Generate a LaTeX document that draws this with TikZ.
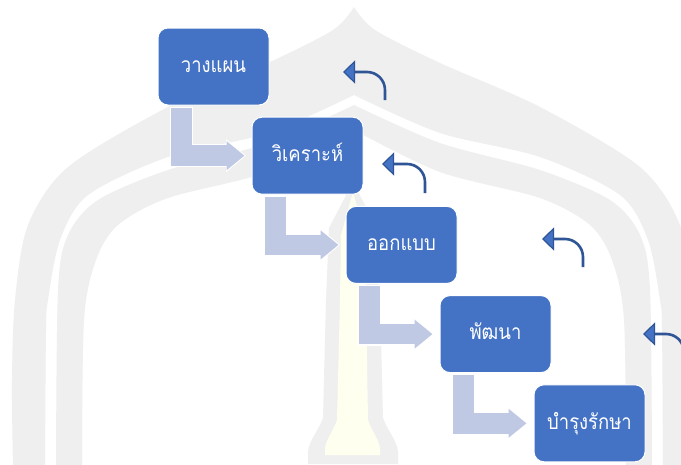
\documentclass[tikz,border=0pt]{standalone}
\usepackage{fontspec}
\newfontfamily\thaifont[Script=Thai,FakeStretch=0.88]{Loma}
\usetikzlibrary{arrows.meta,calc}

\definecolor{boxblue}{HTML}{4472C4}
\definecolor{stepfill}{HTML}{BFC9E4}
\definecolor{backblue}{HTML}{2F5597}
\definecolor{wmgray}{HTML}{EFEFEF}
\definecolor{wmyellow}{HTML}{FFFFF0}

\tikzset{
  phase/.style={rounded corners=10pt, fill=boxblue, draw=white, line width=1pt,
    minimum width=111pt, minimum height=77pt, inner sep=0pt, text=white,
    font=\thaifont\fontsize{21}{25}\selectfont, text height=15.5pt, text depth=4pt},
  flowhalo/.style={draw=white, line width=23pt, -{Triangle[length=20pt,width=32pt]}},
  flowarrow/.style={draw=stepfill, line width=20.5pt, -{Triangle[length=18pt,width=28pt]}},
  backarrow/.style={draw=backblue, line width=2.6pt, rounded corners=18pt,
    -{Triangle[length=12pt,width=23pt,fill=boxblue,line width=1.2pt]}},
}

\begin{document}
\begin{tikzpicture}[x=1pt,y=-1pt]
\useasboundingbox (0,0) rectangle (681,464);
\clip (0,0) rectangle (681,464);
\fill[white] (0,0) rectangle (681,464);

% faint emblem in the background: two nested pointed arches
\fill[wmgray] plot[smooth] coordinates {(13,470) (12,380) (15,300) (28,225) (68,167) (168,107) (268,63) (333,30) (354,7)}
  -- plot[smooth] coordinates {(354,7) (375,30) (440,63) (540,107) (640,167) (680,225) (693,300) (696,380) (695,470)}
  -- plot[smooth] coordinates {(663,470) (662,330) (660,300) (648,240) (620,195) (540,157) (440,133) (354,95)}
  -- plot[smooth] coordinates {(354,95) (268,133) (168,157) (88,195) (60,240) (48,300) (46,330) (45,470)} -- cycle;
\fill[wmgray] plot[smooth] coordinates {(56,470) (58,290) (68,235) (98,200) (168,170) (268,143) (354,105)}
  -- plot[smooth] coordinates {(354,105) (440,143) (540,170) (610,200) (640,235) (650,290) (652,470)}
  -- plot[smooth] coordinates {(626,470) (624,320) (612,260) (590,225) (540,198) (440,172) (354,130)}
  -- plot[smooth] coordinates {(354,130) (268,172) (168,198) (118,225) (96,260) (84,320) (82,470)} -- cycle;
% candle in the middle of the emblem
\fill[wmgray] (353,182) -- (329,228) -- (326,300) -- (323,418)
  .. controls (318,432) and (309,440) .. (308,452) -- (308,464) -- (398,464) -- (398,452)
  .. controls (397,440) and (388,432) .. (383,418) -- (380,300) -- (377,228) -- cycle;
\fill[wmyellow] (353,192) -- (341,235) -- (340,300) -- (337,420)
  .. controls (333,432) and (325,440) .. (325,450) -- (325,455) -- (380,455) -- (380,450)
  .. controls (380,440) and (372,432) .. (368,420) -- (366,300) -- (365,235) -- cycle;

% phases
\node[phase] (p1) at (213.5,66.5)  {วางแผน};
\node[phase] (p2) at (307.5,155.7) {วิเคราะห์};
\node[phase] (p3) at (401.5,244.9) {ออกแบบ};
\node[phase] (p4) at (495.5,334.1) {พัฒนา};
\node[phase] (p5) at (589.5,423.3) {บำรุงรักษา};

% bent arrows from one phase down to the next
\foreach \a/\b in {p1/p2, p2/p3, p3/p4, p4/p5} {
  \draw[flowhalo]  ($(\a.south west)+(24,1)$) |- ($(\b.west)+(-5.5,0)$);
  \draw[flowarrow] ($(\a.south west)+(24,2)$) |- ($(\b.west)+(-7,0)$);
}

% feedback arrows back to the previous phase
\coordinate (f1s) at (385,100); \coordinate (f1e) at (343,72);
\coordinate (f2s) at (425,193); \coordinate (f2e) at (382,164);
\coordinate (f3s) at (583,267); \coordinate (f3e) at (542,239);
\coordinate (f4s) at (684,362); \coordinate (f4e) at (643,334);
\foreach \i in {1,2,3,4} {
  \draw[backarrow] (f\i s) |- (f\i e);
}
\end{tikzpicture}
\end{document}
